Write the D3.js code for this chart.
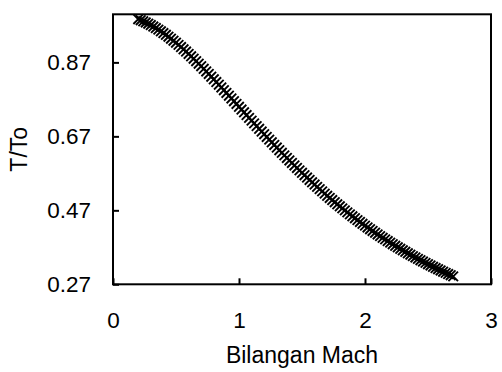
<!DOCTYPE html>
<html>
<head>
<meta charset="utf-8">
<script src="https://cdn.jsdelivr.net/npm/d3@7"></script>
<style>
  body { margin: 0; background: #fff; }
  svg { display: block; font-family: Arial, 'Liberation Sans', sans-serif; }
</style>
</head>
<body>
<script>
// DATA
const mach = [
  0.20, 0.22, 0.24, 0.26, 0.28, 0.30, 0.32, 0.34, 0.36, 0.38,
  0.40, 0.42, 0.44, 0.46, 0.48, 0.50, 0.52, 0.54, 0.56, 0.58,
  0.60, 0.62, 0.64, 0.66, 0.68, 0.70, 0.72, 0.74, 0.76, 0.78,
  0.80, 0.82, 0.84, 0.86, 0.88, 0.90, 0.92, 0.94, 0.96, 0.98,
  1.00, 1.02, 1.04, 1.06, 1.08, 1.10, 1.12, 1.14, 1.16, 1.18,
  1.20, 1.22, 1.24, 1.26, 1.28, 1.30, 1.32, 1.34, 1.36, 1.38,
  1.40, 1.42, 1.44, 1.46, 1.48, 1.50, 1.52, 1.54, 1.56, 1.58,
  1.60, 1.62, 1.64, 1.66, 1.68, 1.70, 1.72, 1.74, 1.76, 1.78,
  1.80, 1.82, 1.84, 1.86, 1.88, 1.90, 1.92, 1.94, 1.96, 1.98,
  2.00, 2.02, 2.04, 2.06, 2.08, 2.10, 2.12, 2.14, 2.16, 2.18,
  2.20, 2.22, 2.24, 2.26, 2.28, 2.30, 2.32, 2.34, 2.36, 2.38,
  2.40, 2.42, 2.44, 2.46, 2.48, 2.50, 2.52, 2.54, 2.56, 2.58,
  2.60, 2.62, 2.64, 2.66, 2.68, 2.70
];
const tempRatio = [
  0.9868, 0.9841, 0.9812, 0.9780, 0.9745, 0.9709, 0.9670, 0.9629, 0.9586, 0.9541,
  0.9494, 0.9445, 0.9394, 0.9341, 0.9287, 0.9231, 0.9173, 0.9114, 0.9054, 0.8992,
  0.8929, 0.8864, 0.8799, 0.8732, 0.8665, 0.8596, 0.8527, 0.8456, 0.8386, 0.8314,
  0.8242, 0.8169, 0.8096, 0.8022, 0.7948, 0.7874, 0.7800, 0.7725, 0.7650, 0.7575,
  0.7500, 0.7425, 0.7350, 0.7275, 0.7200, 0.7126, 0.7051, 0.6977, 0.6904, 0.6830,
  0.6757, 0.6684, 0.6611, 0.6539, 0.6468, 0.6397, 0.6326, 0.6256, 0.6186, 0.6117,
  0.6048, 0.5981, 0.5913, 0.5846, 0.5780, 0.5714, 0.5649, 0.5585, 0.5521, 0.5458,
  0.5396, 0.5334, 0.5273, 0.5212, 0.5152, 0.5093, 0.5035, 0.4977, 0.4920, 0.4863,
  0.4808, 0.4753, 0.4698, 0.4644, 0.4591, 0.4539, 0.4487, 0.4435, 0.4385, 0.4335,
  0.4286, 0.4237, 0.4189, 0.4142, 0.4095, 0.4049, 0.4003, 0.3958, 0.3914, 0.3870,
  0.3827, 0.3784, 0.3742, 0.3700, 0.3659, 0.3619, 0.3579, 0.3539, 0.3501, 0.3462,
  0.3425, 0.3387, 0.3351, 0.3314, 0.3279, 0.3243, 0.3209, 0.3174, 0.3140, 0.3107,
  0.3074, 0.3041, 0.3009, 0.2978, 0.2946, 0.2915
];
const xTicks = [0, 1, 2, 3];
const yTicks = [0.27, 0.47, 0.67, 0.87];
const xTitle = 'Bilangan Mach';
const yTitle = 'T/To';

const width = 502;
const height = 372;

// LAYOUT
const plotLeft = 113;
const plotRight = 491;
const plotTop = 14.3;
const plotBottom = 284.3;

const svg = d3
  .select('body')
  .append('svg')
  .attr('width', width)
  .attr('height', height);

const x = d3.scaleLinear().domain([0, 3]).range([plotLeft, plotRight]);
const y = d3.scaleLinear().domain([0.27, 1.0]).range([plotBottom, plotTop]);

// AXES (ticks point inward)
const xAxis = svg
  .append('g')
  .attr('transform', `translate(0, ${plotBottom})`)
  .call(
    d3.axisBottom(x)
      .tickValues(xTicks)
      .tickFormat(d3.format('d'))
      .tickSizeInner(-6)
      .tickSizeOuter(0)
      .tickPadding(27.4)
  );

const yAxis = svg
  .append('g')
  .attr('transform', `translate(${plotLeft}, 0)`)
  .call(
    d3.axisLeft(y)
      .tickValues(yTicks)
      .tickFormat(d3.format('.2f'))
      .tickSizeInner(-6)
      .tickSizeOuter(0)
      .tickPadding(22)
  );

for (const ax of [xAxis, yAxis]) {
  ax.select('.domain').remove();
  ax.selectAll('line').attr('stroke', '#000').attr('stroke-width', 2);
  ax.selectAll('text')
    .attr('fill', '#000')
    .style('font-size', '22.5px')
    .style('font-family', 'Arial, "Liberation Sans", sans-serif');
}

// FRAME
svg
  .append('rect')
  .attr('x', plotLeft)
  .attr('y', plotTop)
  .attr('width', plotRight - plotLeft)
  .attr('height', plotBottom - plotTop)
  .attr('fill', 'none')
  .attr('stroke', '#000')
  .attr('stroke-width', 2);

// MARKERS (x shape)
const s = 4.8;
const crossPath = `M ${-s} ${-s} L ${s} ${s} M ${-s} ${s} L ${s} ${-s}`;

svg
  .append('g')
  .selectAll('path')
  .data(mach.map((m, i) => [m, tempRatio[i]]))
  .join('path')
  .attr('d', crossPath)
  .attr('transform', (d) => `translate(${x(d[0])}, ${y(d[1])})`)
  .attr('fill', 'none')
  .attr('stroke', '#000')
  .attr('stroke-width', 1.9);

// TITLES
svg
  .append('text')
  .text(xTitle)
  .attr('x', (plotLeft + plotRight) / 2)
  .attr('y', 363)
  .attr('text-anchor', 'middle')
  .style('font-size', '23px');

svg
  .append('text')
  .text(yTitle)
  .attr('transform', `translate(27, ${(plotTop + plotBottom) / 2}) rotate(-90)`)
  .attr('text-anchor', 'middle')
  .style('font-size', '23px');
</script>
</body>
</html>
